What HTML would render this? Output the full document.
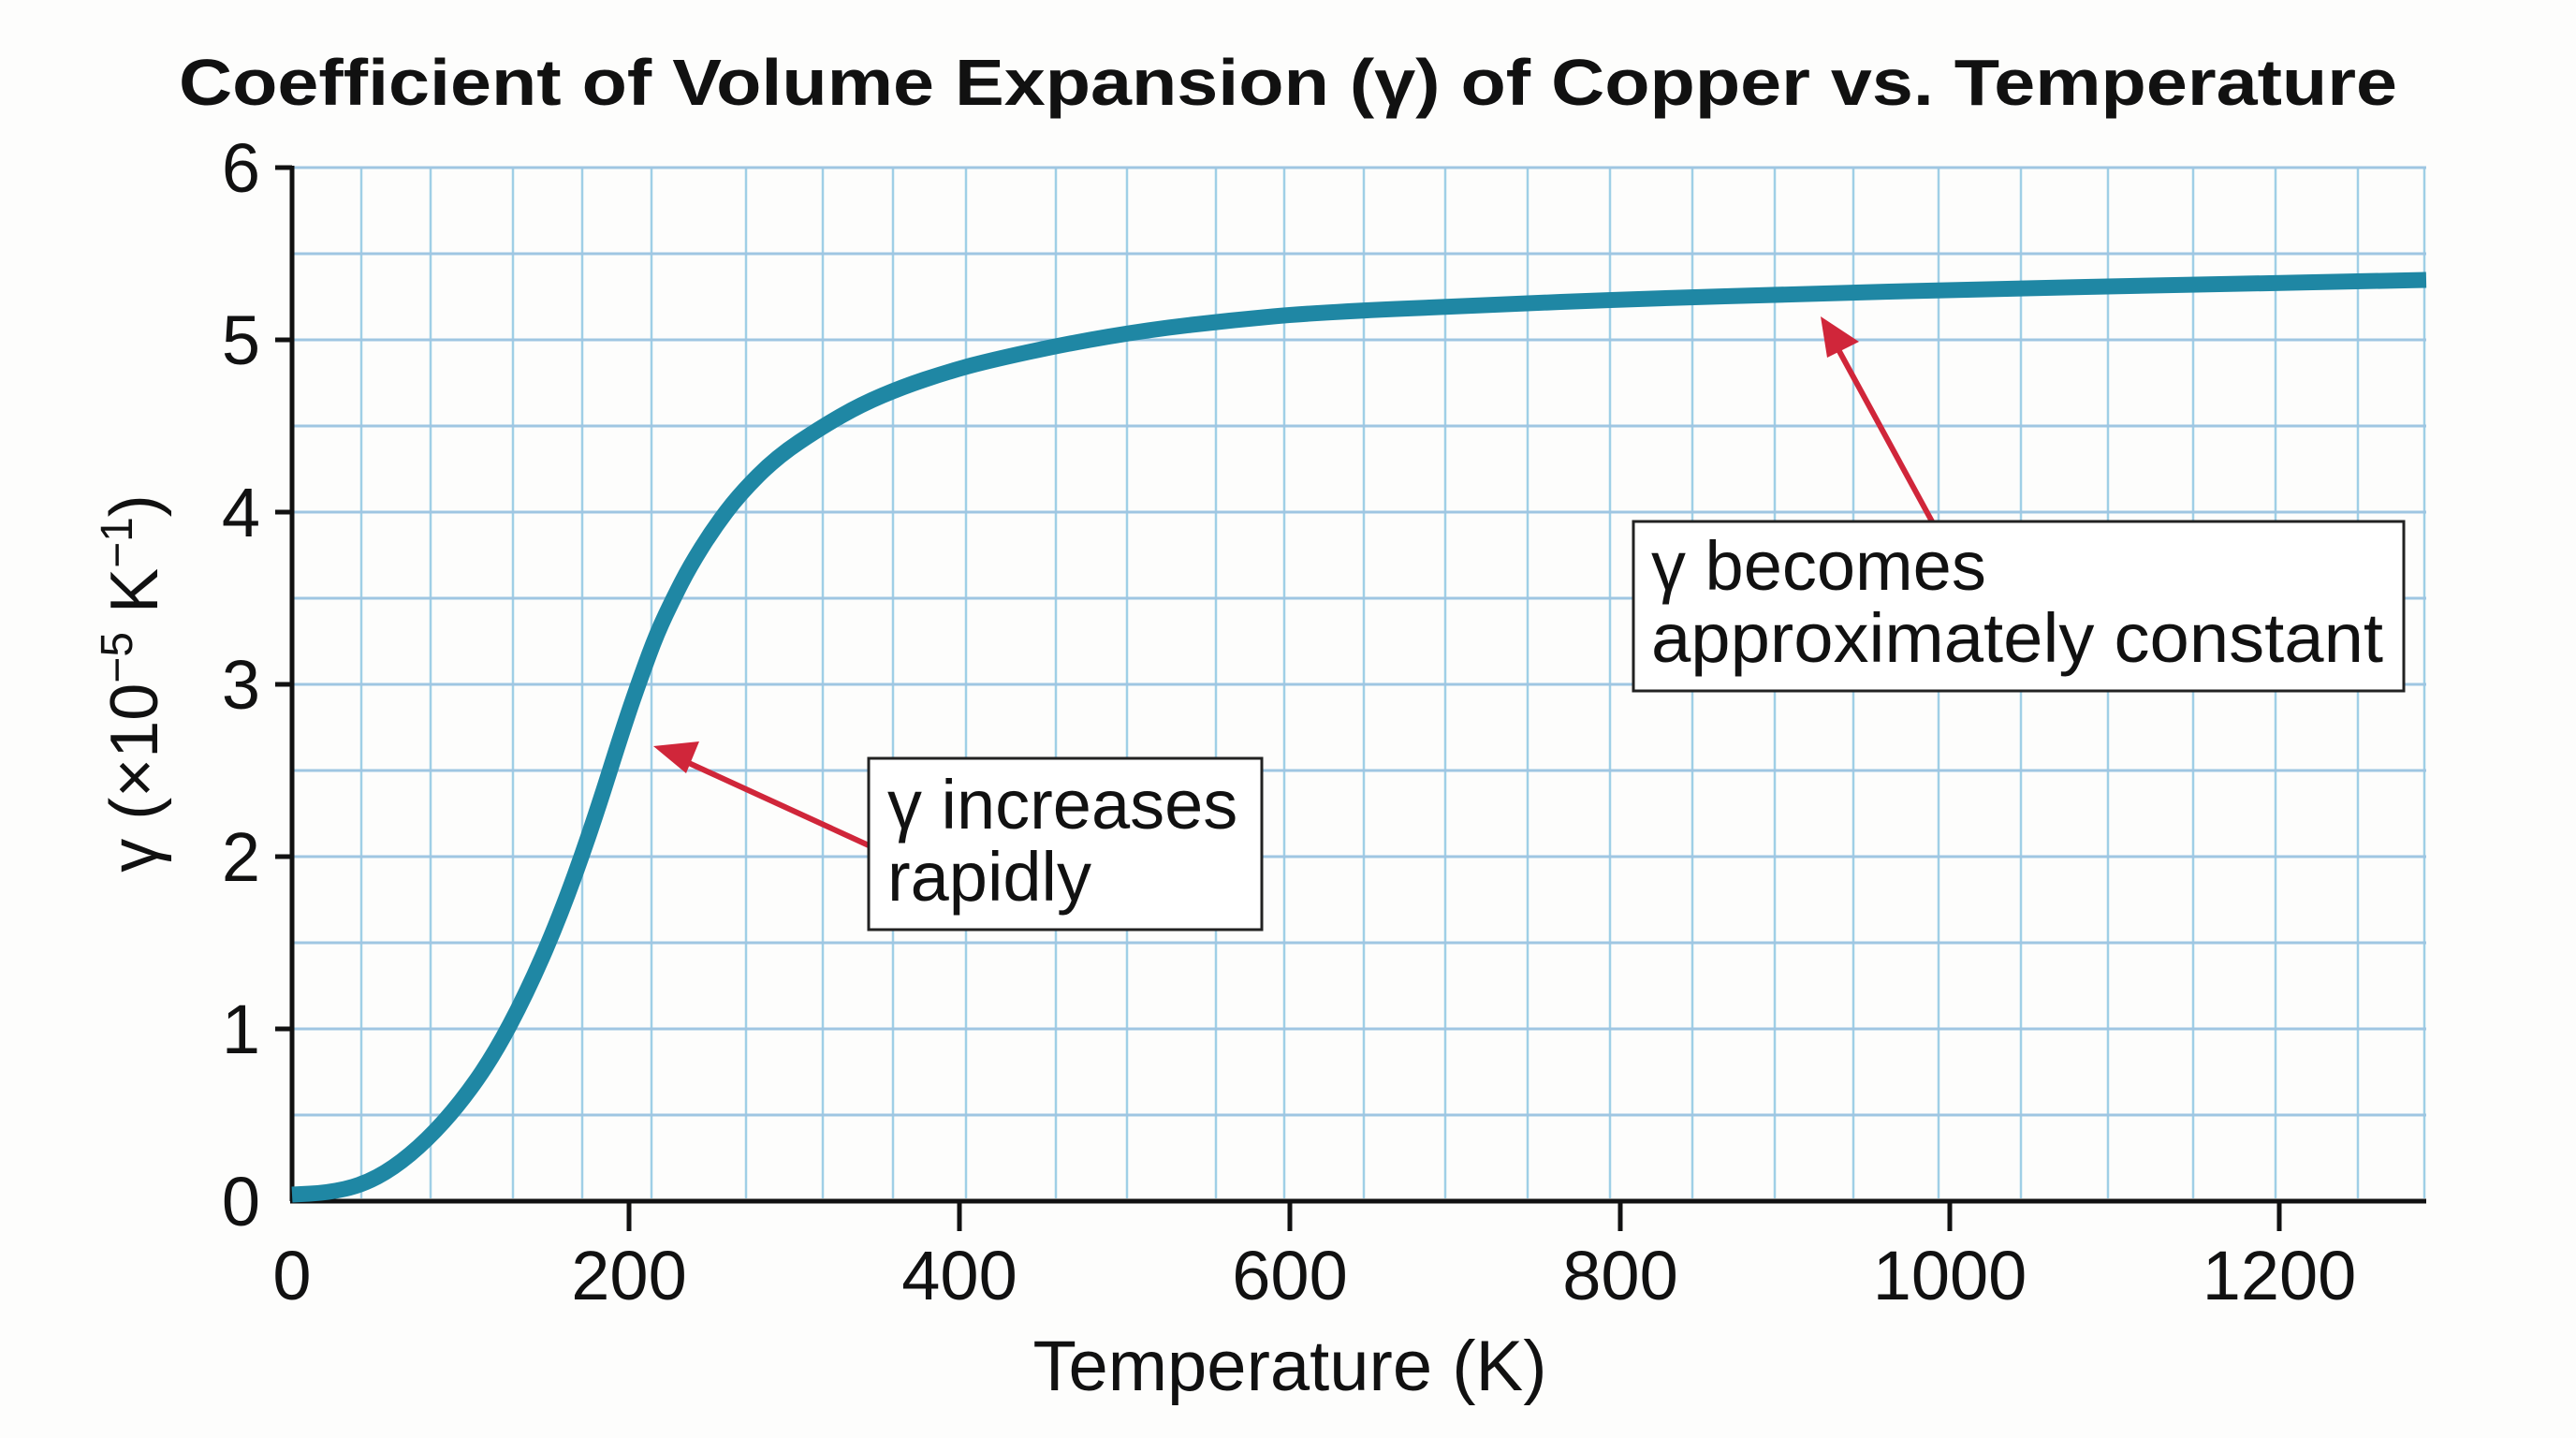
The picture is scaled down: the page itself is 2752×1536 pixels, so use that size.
<!DOCTYPE html>
<html><head><meta charset="utf-8"><style>html,body{margin:0;padding:0;background:#fdfdfc}svg{display:block}</style></head>
<body>
<svg width="2752" height="1536" viewBox="0 0 2752 1536" xmlns="http://www.w3.org/2000/svg" font-family="Liberation Sans, Arial, sans-serif">
<rect width="2752" height="1536" fill="#fdfdfc"/>
<g stroke="#9fcfe6" stroke-width="2.5">
<line x1="386" y1="179" x2="386" y2="1280"/><line x1="460" y1="179" x2="460" y2="1280"/><line x1="548" y1="179" x2="548" y2="1280"/><line x1="622" y1="179" x2="622" y2="1280"/><line x1="696" y1="179" x2="696" y2="1280"/><line x1="797" y1="179" x2="797" y2="1280"/><line x1="879" y1="179" x2="879" y2="1280"/><line x1="954" y1="179" x2="954" y2="1280"/><line x1="1032" y1="179" x2="1032" y2="1280"/><line x1="1128" y1="179" x2="1128" y2="1280"/><line x1="1204" y1="179" x2="1204" y2="1280"/><line x1="1299" y1="179" x2="1299" y2="1280"/><line x1="1372" y1="179" x2="1372" y2="1280"/><line x1="1457" y1="179" x2="1457" y2="1280"/><line x1="1544" y1="179" x2="1544" y2="1280"/><line x1="1632" y1="179" x2="1632" y2="1280"/><line x1="1720" y1="179" x2="1720" y2="1280"/><line x1="1808" y1="179" x2="1808" y2="1280"/><line x1="1896" y1="179" x2="1896" y2="1280"/><line x1="1980" y1="179" x2="1980" y2="1280"/><line x1="2071" y1="179" x2="2071" y2="1280"/><line x1="2159" y1="179" x2="2159" y2="1280"/><line x1="2252" y1="179" x2="2252" y2="1280"/><line x1="2343" y1="179" x2="2343" y2="1280"/><line x1="2431" y1="179" x2="2431" y2="1280"/><line x1="2519" y1="179" x2="2519" y2="1280"/><line x1="2590" y1="179" x2="2590" y2="1280"/>
</g>
<g stroke="#9fc6e2" stroke-width="3">
<line x1="312" y1="179" x2="2592" y2="179"/><line x1="312" y1="271" x2="2592" y2="271"/><line x1="312" y1="363" x2="2592" y2="363"/><line x1="312" y1="455" x2="2592" y2="455"/><line x1="312" y1="547" x2="2592" y2="547"/><line x1="312" y1="639" x2="2592" y2="639"/><line x1="312" y1="731" x2="2592" y2="731"/><line x1="312" y1="823" x2="2592" y2="823"/><line x1="312" y1="915" x2="2592" y2="915"/><line x1="312" y1="1007" x2="2592" y2="1007"/><line x1="312" y1="1099" x2="2592" y2="1099"/><line x1="312" y1="1191" x2="2592" y2="1191"/>
</g>
<g stroke="#111" stroke-width="5" fill="none">
<line x1="312" y1="177" x2="312" y2="1283"/>
<line x1="310" y1="1283" x2="2592" y2="1283"/>
<line x1="294" y1="179" x2="312" y2="179"/><line x1="294" y1="363" x2="312" y2="363"/><line x1="294" y1="547" x2="312" y2="547"/><line x1="294" y1="731" x2="312" y2="731"/><line x1="294" y1="915" x2="312" y2="915"/><line x1="294" y1="1099" x2="312" y2="1099"/>
<line x1="672" y1="1283" x2="672" y2="1315"/><line x1="1025" y1="1283" x2="1025" y2="1315"/><line x1="1378" y1="1283" x2="1378" y2="1315"/><line x1="1731" y1="1283" x2="1731" y2="1315"/><line x1="2083" y1="1283" x2="2083" y2="1315"/><line x1="2435" y1="1283" x2="2435" y2="1315"/>
</g>
<path fill="none" stroke="#1f87a4" stroke-width="17" stroke-linecap="butt" d="M312,1276 L331,1275 Q350,1274 368,1270 Q386,1266 403,1257 Q420,1248 438,1233 Q456,1218 474,1198 Q492,1178 509.5,1153 Q527,1128 544.5,1095 Q562,1062 579.5,1022 Q597,982 614.5,933.5 Q632,885 649.5,829.5 Q667,774 676,748 Q685,722 693.5,699 Q702,676 711,657 Q720,638 728.5,621.5 Q737,605 749.5,585 Q762,565 776,546.5 Q790,528 810,508 Q830,488 854,472 Q878,456 899,444 Q920,432 942.5,422.5 Q965,413 987.5,405.5 Q1010,398 1031.5,392 Q1053,386 1096.5,376.5 Q1140,367 1184.5,359.5 Q1229,352 1272.5,347 Q1316,342 1360,338 Q1404,334 1492,330 Q1580,326 1667.5,322.5 Q1755,319 1842.5,316.5 Q1930,314 2018,311.5 Q2106,309 2228,306.5 Q2350,304 2471,301.5 L2592,299"/>
<g font-size="74" fill="#111">
<text x="278" y="205" text-anchor="end">6</text><text x="278" y="389" text-anchor="end">5</text><text x="278" y="573" text-anchor="end">4</text><text x="278" y="757" text-anchor="end">3</text><text x="278" y="941" text-anchor="end">2</text><text x="278" y="1125" text-anchor="end">1</text><text x="278" y="1309" text-anchor="end">0</text>
<text x="312" y="1388" text-anchor="middle">0</text><text x="672" y="1388" text-anchor="middle">200</text><text x="1025" y="1388" text-anchor="middle">400</text><text x="1378" y="1388" text-anchor="middle">600</text><text x="1731" y="1388" text-anchor="middle">800</text><text x="2083" y="1388" text-anchor="middle">1000</text><text x="2435" y="1388" text-anchor="middle">1200</text>
<text x="1378" y="1485" text-anchor="middle" font-size="76">Temperature (K)</text>
<text transform="translate(168,730) rotate(-90)" text-anchor="middle" font-size="72">γ (×10<tspan dy="-27" font-size="48">−5</tspan><tspan dy="27"> K</tspan><tspan dy="-27" font-size="48">−1</tspan><tspan dy="27">)</tspan></text>
</g>
<text x="1376" y="112" text-anchor="middle" font-size="70" font-weight="bold" fill="#111" textLength="2370" lengthAdjust="spacingAndGlyphs">Coefficient of Volume Expansion (γ) of Copper vs. Temperature</text>
<g stroke="#d0263a" stroke-width="6" fill="#d0263a">
<line x1="928" y1="903" x2="725" y2="810"/>
<polygon points="698,797 747,792 733,826" stroke="none"/>
<line x1="2064" y1="557" x2="1960" y2="366"/>
<polygon points="1945,338 1986,365 1952,382" stroke="none"/>
</g>
<rect x="928" y="810" width="420" height="183" fill="#fff" stroke="#222" stroke-width="3"/>
<rect x="1745" y="557" width="823" height="181" fill="#fff" stroke="#222" stroke-width="3"/>
<g font-size="74" fill="#111">
<text x="948" y="885">γ increases</text>
<text x="948" y="962">rapidly</text>
<text x="1764" y="630">γ becomes</text>
<text x="1764" y="707" textLength="782" lengthAdjust="spacingAndGlyphs">approximately constant</text>
</g>
</svg>
</body></html>
